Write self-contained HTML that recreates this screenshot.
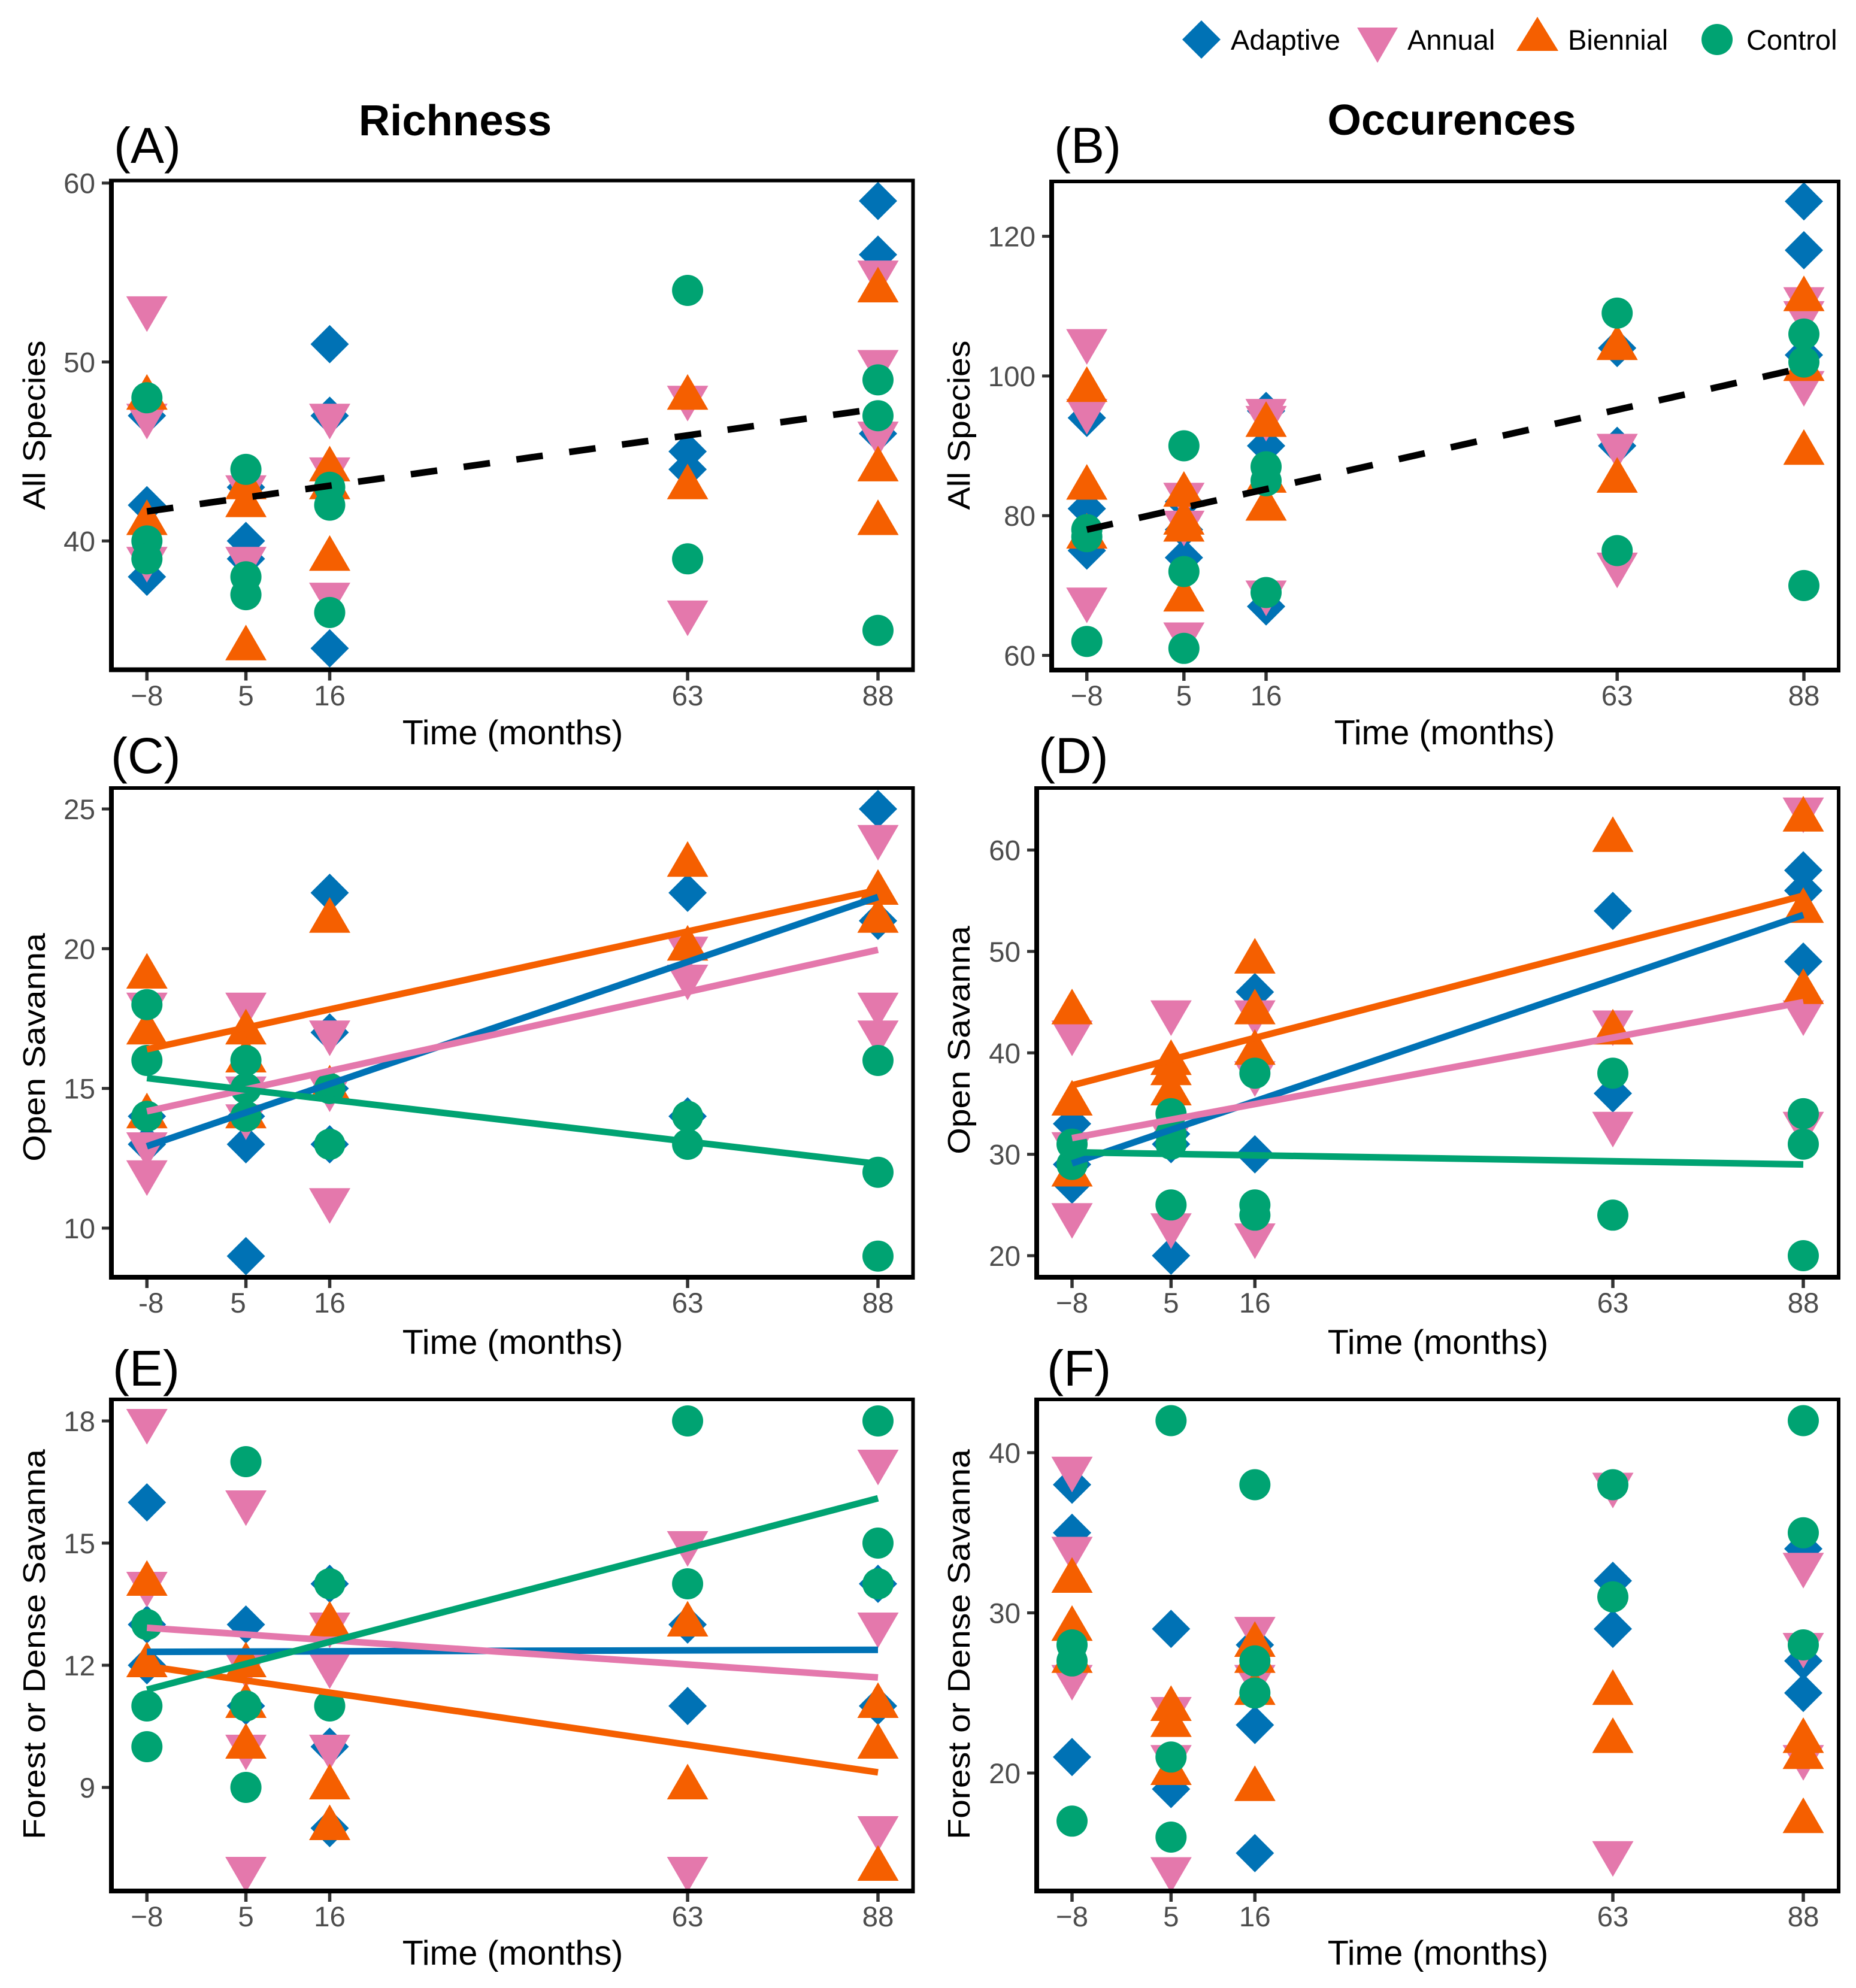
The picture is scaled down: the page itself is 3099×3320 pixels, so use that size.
<!DOCTYPE html>
<html lang="en">
<head>
<meta charset="utf-8">
<title>Richness and occurrences over time by fire treatment</title>
<style>
html,body{margin:0;padding:0;background:#fff;}
svg{display:block;font-family:"Liberation Sans",Arial,sans-serif;}
.axt{font-size:57.5px;fill:#000;}
.ayt{font-size:52px;fill:#000;}
.ttl{font-size:72.5px;font-weight:bold;fill:#000;text-anchor:middle;}
.tag{font-size:84px;fill:#000;}
.leg{font-size:47px;fill:#000;}
.tk{font-size:47.5px;fill:#4d4d4d;}
</style>
</head>
<body>
<svg id="figure" xmlns="http://www.w3.org/2000/svg" width="3099" height="3320" viewBox="0 0 3099 3320">
  <rect x="0" y="0" width="3099" height="3320" fill="#fff"/>

  <g>
    <g>
      <polygon points="2006,34 2038,66 2006,98 1974,66" fill="#0072b5"/>
      <text class="leg" x="2055" y="83">Adaptive</text>
    </g>
    <g>
      <polygon points="2266,46 2334,46 2300,105" fill="#e478ac"/>
      <text class="leg" x="2350" y="83">Annual</text>
    </g>
    <g>
      <polygon points="2567,28 2602,85 2532,85" fill="#f55f00"/>
      <text class="leg" x="2618" y="83">Biennial</text>
    </g>
    <g>
      <circle cx="2867" cy="66" r="26" fill="#00a372"/>
      <text class="leg" x="2916" y="83">Control</text>
    </g>
  </g>

  <text class="ttl" x="760" y="226">Richness</text>
  <text class="ttl" x="2424" y="225">Occurences</text>

  <g id="panel-a">
    <text class="tag" x="190" y="272">(A)</text>
    <text class="ayt" text-anchor="middle" transform="translate(75 710) rotate(-90) scale(1.1 1)">All Species</text>
    <text class="axt" text-anchor="middle" x="856" y="1243">Time (months)</text>
  </g>
  <g id="panel-b">
    <text class="tag" x="1760" y="272">(B)</text>
    <text class="ayt" text-anchor="middle" transform="translate(1619 710) rotate(-90) scale(1.1 1)">All Species</text>
    <text class="axt" text-anchor="middle" x="2412" y="1243">Time (months)</text>
  </g>
  <g id="panel-c">
    <text class="tag" x="185" y="1291">(C)</text>
    <text class="ayt" text-anchor="middle" transform="translate(75 1749) rotate(-90) scale(1.1 1)">Open Savanna</text>
    <text class="axt" text-anchor="middle" x="856" y="2261">Time (months)</text>
  </g>
  <g id="panel-d">
    <text class="tag" x="1734" y="1291">(D)</text>
    <text class="ayt" text-anchor="middle" transform="translate(1619 1737) rotate(-90) scale(1.1 1)">Open Savanna</text>
    <text class="axt" text-anchor="middle" x="2401" y="2261">Time (months)</text>
  </g>
  <g id="panel-e">
    <text class="tag" x="188" y="2314">(E)</text>
    <text class="ayt" text-anchor="middle" transform="translate(75 2746) rotate(-90) scale(1.1 1)">Forest or Dense Savanna</text>
    <text class="axt" text-anchor="middle" x="856" y="3281">Time (months)</text>
  </g>
  <g id="panel-f">
    <text class="tag" x="1748" y="2314">(F)</text>
    <text class="ayt" text-anchor="middle" transform="translate(1619 2746) rotate(-90) scale(1.1 1)">Forest or Dense Savanna</text>
    <text class="axt" text-anchor="middle" x="2401" y="3281">Time (months)</text>
  </g>
</svg>

<script>
// Categories
const months = [-8, 5, 16, 63, 88];
const monthLabels = ["\u22128", "5", "16", "63", "88"];
const monthLabelsHyphen = ["-8", "5", "16", "63", "88"];
const trendMonths = [-8, 88];

// Y tick labels
const ticksA = [60, 50, 40];
const ticksB = [120, 100, 80, 60];
const ticksC = [25, 20, 15, 10];
const ticksD = [60, 50, 40, 30, 20];
const ticksE = [18, 15, 12, 9];
const ticksF = [40, 30, 20];

// Panel A: richness, all species (one inner list per month)
const aAdaptive = [[47, 42, 38], [43, 40, 39], [51, 47, 34], [45, 44], [59, 56, 46]];
const aAnnual = [[53, 47, 39], [43, 39], [47, 44, 37], [48, 36], [55, 50, 46]];
const aBiennial = [[48, 41], [43, 42, 34], [44, 43, 39], [48, 43], [54, 44, 41]];
const aControl = [[48, 40, 39], [44, 38, 37], [43, 42, 36], [54, 39], [49, 47, 35]];
const aOverallTrend = [41.65, 47.4];

// Panel B: occurences, all species
const bAdaptive = [[94, 81, 75], [82, 78, 74], [95, 90, 67], [104, 90], [125, 118, 103]];
const bAnnual = [[105, 95, 68], [83, 79, 63], [95, 94, 69], [90, 73], [111, 109, 99]];
const bBiennial = [[98, 84, 77], [83, 79, 78, 68], [93, 85, 81], [104, 85], [111, 101, 89]];
const bControl = [[78, 77, 62], [90, 72, 61], [87, 85, 69], [109, 75], [106, 102, 70]];
const bOverallTrend = [78, 101.2];

// Panel C: richness, open savanna
const cAdaptive = [[14, 13], [15, 14, 13, 9], [22, 17, 15, 13], [22, 14], [25, 21]];
const cAnnual = [[18, 13, 12], [18, 15, 14], [17, 15, 11], [20, 19], [24, 18, 17]];
const cBiennial = [[19, 17, 14], [17, 16, 14], [21, 15], [23, 20], [22, 21]];
const cControl = [[18, 16, 14], [16, 15, 14], [15, 13], [14, 13], [16, 12, 9]];
const cAdaptiveTrend = [12.93, 21.85];
const cAnnualTrend = [14.18, 19.96];
const cBiennialTrend = [16.4, 22.1];
const cControlTrend = [15.37, 12.3];

// Panel D: occurences, open savanna
const dAdaptive = [[33, 29, 27], [32, 31, 20], [46, 30], [54, 36], [58, 56, 49]];
const dAnnual = [[42, 31, 24], [44, 32, 23], [44, 38, 22], [43, 33], [64, 44, 33]];
const dBiennial = [[44, 35, 28], [39, 38, 36], [49, 44, 40], [61, 42], [63, 54, 46]];
const dControl = [[31, 29], [34, 32, 31, 25], [38, 25, 24], [38, 24], [34, 31, 20]];
const dAdaptiveTrend = [29.1, 53.6];
const dAnnualTrend = [31.6, 45];
const dBiennialTrend = [36.8, 55.5];
const dControlTrend = [30.2, 29];

// Panel E: richness, forest or dense savanna
const eAdaptive = [[16, 13, 12], [13, 11], [14, 10, 8], [13, 11], [14, 11]];
const eAnnual = [[18, 14], [16, 12, 10, 7], [13, 12, 10], [15, 7], [17, 13, 8]];
const eBiennial = [[14, 12], [12, 11, 10], [13, 9, 8], [13, 9], [11, 10, 7]];
const eControl = [[13, 11, 10], [17, 11, 9], [14, 11], [18, 14], [18, 15, 14]];
const eAdaptiveTrend = [12.33, 12.38];
const eAnnualTrend = [12.92, 11.7];
const eBiennialTrend = [11.98, 9.37];
const eControlTrend = [11.4, 16.1];

// Panel F: occurences, forest or dense savanna
const fAdaptive = [[38, 35, 21], [29, 19], [28, 23, 15], [32, 29], [34, 27, 25]];
const fAnnual = [[39, 34, 26], [24, 21, 14], [29, 26], [38, 15], [33, 28, 21]];
const fBiennial = [[32, 29, 27], [24, 23, 20], [28, 27, 25, 19], [25, 22], [22, 21, 17]];
const fControl = [[28, 27, 17], [42, 21, 16], [38, 27, 25], [38, 31], [42, 35, 28]];

// Rendering
const SVG_NS = "http://www.w3.org/2000/svg";
const groupNames = ["adaptive", "annual", "biennial", "control"];
const groupColors = { adaptive: "#0072b5", annual: "#e478ac", biennial: "#f55f00", control: "#00a372" };

function make(parent, tag, attrs) {
  const node = document.createElementNS(SVG_NS, tag);
  for (const key in attrs) node.setAttribute(key, attrs[key]);
  parent.appendChild(node);
  return node;
}

function linearScale(d0, d1, r0, r1) {
  return function (v) { return r0 + (v - d0) * (r1 - r0) / (d1 - d0); };
}

function shapePoints(group, cx, cy) {
  if (group === "adaptive") {
    return [[cx, cy - 32], [cx + 32, cy], [cx, cy + 32], [cx - 32, cy]];
  }
  if (group === "annual") {
    return [[cx - 34.5, cy - 20], [cx + 34.5, cy - 20], [cx, cy + 39.5]];
  }
  return [[cx, cy - 39.5], [cx + 34.5, cy + 20], [cx - 34.5, cy + 20]];
}

function drawPoints(root, key, group, values, x, y) {
  values.forEach(function (list, mi) {
    list.forEach(function (v) {
      const cx = x(months[mi]);
      const cy = y(v);
      let el;
      if (group === "control") {
        el = make(root, "circle", { cx: cx.toFixed(1), cy: cy.toFixed(1), r: 26, fill: groupColors[group] });
      } else {
        const pts = shapePoints(group, cx, cy).map(function (p) { return p[0].toFixed(1) + "," + p[1].toFixed(1); }).join(" ");
        el = make(root, "polygon", { points: pts, fill: groupColors[group] });
      }
      
      
    });
  });
}

function drawTrend(root, key, name, values, color, dashed, x, y) {
  const attrs = {
    x1: x(trendMonths[0]).toFixed(1), y1: y(values[0]).toFixed(1),
    x2: x(trendMonths[1]).toFixed(1), y2: y(values[1]).toFixed(1),
    stroke: color, "stroke-width": 11, fill: "none"
  };
  if (dashed) attrs["stroke-dasharray"] = "44.5 44.5";
  const el = make(root, "line", attrs);
  
  
}

function drawPanel(p) {
  const root = document.getElementById("panel-" + p.key);
  const x = linearScale(months[0], months[months.length - 1], p.xPx[0], p.xPx[1]);
  const y = linearScale(p.ticks[0], p.ticks[p.ticks.length - 1], p.yPx[0], p.yPx[1]);

  p.ticks.forEach(function (t) {
    const mark = make(root, "line", { x1: p.left - 16, x2: p.left, y1: y(t).toFixed(1), y2: y(t).toFixed(1), stroke: "#333", "stroke-width": 5 });
    
    
    const label = make(root, "text", { x: p.yLabelRight, y: (y(t) + 17).toFixed(1), "text-anchor": "end", class: "tk" });
    label.textContent = String(t);
    
    
  });

  months.forEach(function (m, i) {
    const mark = make(root, "line", { x1: x(m).toFixed(1), x2: x(m).toFixed(1), y1: p.bottom, y2: p.bottom + 18, stroke: "#333", "stroke-width": 5.5 });
    
    
    const nudge = p.labelNudge ? p.labelNudge[i] : 0;
    const label = make(root, "text", { x: (x(m) + nudge).toFixed(1), y: p.xLabelBase, "text-anchor": "middle", class: "tk" });
    label.textContent = p.labels[i];
    
    
  });

  p.series.forEach(function (values, gi) {
    drawPoints(root, p.key, groupNames[gi], values, x, y);
  });

  if (p.overall) drawTrend(root, p.key, "overall", p.overall, "#000", true, x, y);
  if (p.trends) {
    p.trends.forEach(function (values, gi) {
      drawTrend(root, p.key, groupNames[gi], values, groupColors[groupNames[gi]], false, x, y);
    });
  }

  const frame = make(root, "rect", { x: p.left, y: p.top, width: p.right - p.left, height: p.bottom - p.top, fill: "none", stroke: "#000", "stroke-width": 6 });
  
  

  const axisLeft = make(root, "line", { x1: p.left, x2: p.left, y1: p.top - 3, y2: p.bottom + 4, stroke: "#000", "stroke-width": 8 });
  
  

  const axisBottom = make(root, "line", { x1: p.left - 4, x2: p.right + 3, y1: p.bottom, y2: p.bottom, stroke: "#000", "stroke-width": 8 });
  
  
}

const panelList = [
  { key: "a", left: 186, right: 1524.5, top: 301.5, bottom: 1118.5, xPx: [245.3, 1466], ticks: ticksA, yPx: [305.7, 903.4],
    yLabelRight: 159, xLabelBase: 1178, labels: monthLabels,
    series: [aAdaptive, aAnnual, aBiennial, aControl], overall: aOverallTrend },
  { key: "b", left: 1756, right: 3070, top: 303, bottom: 1119, xPx: [1814.7, 3012], ticks: ticksB, yPx: [394.6, 1094.5],
    yLabelRight: 1729, xLabelBase: 1178, labels: monthLabels,
    series: [bAdaptive, bAnnual, bBiennial, bControl], overall: bOverallTrend },
  { key: "c", left: 186, right: 1524.5, top: 1316, bottom: 2133, xPx: [245.3, 1466], ticks: ticksC, yPx: [1351, 2051],
    yLabelRight: 159, xLabelBase: 2192, labels: monthLabelsHyphen, labelNudge: [7, -13, 0, 0, 0],
    series: [cAdaptive, cAnnual, cBiennial, cControl],
    trends: [cAdaptiveTrend, cAnnualTrend, cBiennialTrend, cControlTrend] },
  { key: "d", left: 1731, right: 3070, top: 1316, bottom: 2133, xPx: [1790, 3011], ticks: ticksD, yPx: [1419.6, 2097],
    yLabelRight: 1704, xLabelBase: 2192, labels: monthLabels,
    series: [dAdaptive, dAnnual, dBiennial, dControl],
    trends: [dAdaptiveTrend, dAnnualTrend, dBiennialTrend, dControlTrend] },
  { key: "e", left: 186, right: 1524.5, top: 2337, bottom: 3158, xPx: [245.3, 1466], ticks: ticksE, yPx: [2373, 2985],
    yLabelRight: 159, xLabelBase: 3217, labels: monthLabels,
    series: [eAdaptive, eAnnual, eBiennial, eControl],
    trends: [eAdaptiveTrend, eAnnualTrend, eBiennialTrend, eControlTrend] },
  { key: "f", left: 1731, right: 3070, top: 2337, bottom: 3158, xPx: [1790, 3011], ticks: ticksF, yPx: [2426, 2961],
    yLabelRight: 1704, xLabelBase: 3217, labels: monthLabels,
    series: [fAdaptive, fAnnual, fBiennial, fControl] }
];

panelList.forEach(drawPanel);
</script>
</body>
</html>
